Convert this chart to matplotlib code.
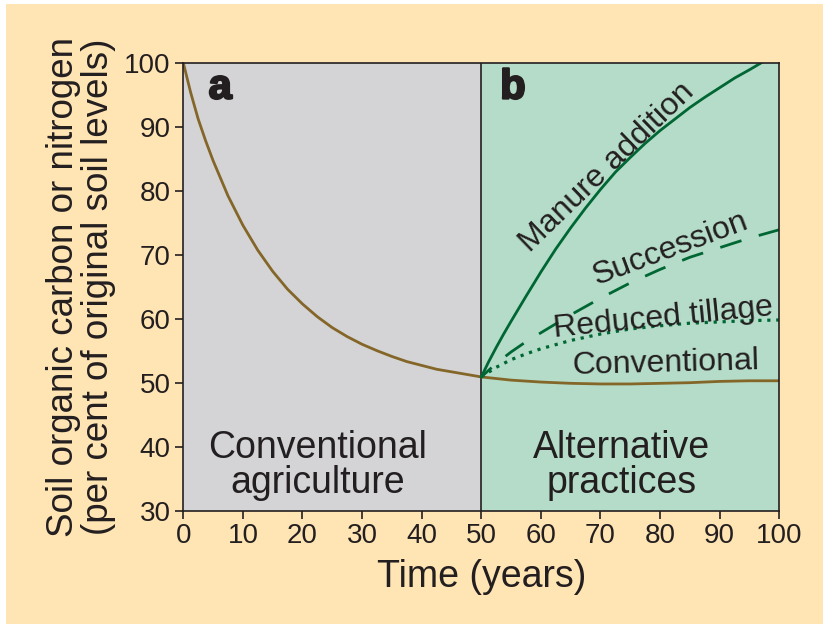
import matplotlib
matplotlib.use("Agg")
import matplotlib.pyplot as plt
from matplotlib.patches import Rectangle
import matplotlib.patheffects as pe

plt.rcParams['font.family'] = ['Liberation Sans', 'DejaVu Sans']

# ---- data ----
years_conv = [0, 1.25, 2.5, 3.75, 5, 7.5, 10, 12.5, 15, 17.5, 20, 22.5, 25, 27.5, 30, 32.5,
              35, 37.5, 40, 42.5, 45, 47.5, 50, 55, 60, 65, 70, 75, 80, 85, 90, 95, 100]
conventional = [100, 95.3, 91.2, 87.8, 84.7, 79.2, 74.6, 70.7, 67.4, 64.6, 62.3, 60.3, 58.6,
                57.2, 56.0, 55.0, 54.1, 53.3, 52.7, 52.1, 51.7, 51.3, 50.9, 50.4, 50.1, 49.9,
                49.8, 49.8, 49.9, 50.0, 50.2, 50.3, 50.3]

years_manure = [50, 51.25, 52.5, 53.75, 55, 57.5, 60, 62.5, 65, 67.5, 70, 72.5, 75, 77.5, 80,
                82.5, 85, 87.5, 90, 92.5, 95, 97]
manure = [50.9, 53.3, 55.5, 57.6, 59.6, 63.5, 67.3, 70.9, 74.2, 77.3, 80.2, 82.9, 85.2, 87.4,
          89.4, 91.2, 93.0, 94.6, 96.1, 97.6, 98.9, 100]

years_alt = [50, 52.5, 55, 57.5, 60, 65, 70, 75, 80, 85, 90, 95, 100]
succession = [50.9, 53.0, 54.8, 56.4, 57.8, 60.6, 63.2, 65.6, 67.7, 69.6, 71.1, 72.6, 73.9]
reduced_tillage = [50.9, 52.4, 53.6, 54.5, 55.3, 56.6, 57.6, 58.4, 58.9, 59.3, 59.5, 59.7, 59.8]

x_ticks = [0, 10, 20, 30, 40, 50, 60, 70, 80, 90, 100]
y_ticks = [30, 40, 50, 60, 70, 80, 90, 100]

# ---- styles ----
BEIGE = '#FFE4B4'
GRAY = '#D4D4D6'
GREEN_BG = '#B4DCC8'
BROWN = '#846629'
GREEN = '#006633'
INK = '#231F20'

fig = plt.figure(figsize=(8.23, 6.24), dpi=100, facecolor='white')
fig.patches.append(Rectangle((6 / 823, 0), 1, 620 / 624, transform=fig.transFigure,
                             facecolor=BEIGE, edgecolor='none', zorder=-10))

ax = fig.add_axes([0.2227, 0.1816, 0.7242, 0.7179])
ax.set_facecolor('none')
ax.set_xlim(0, 100)
ax.set_ylim(30, 100)

ax.axvspan(0, 50, color=GRAY, zorder=0, lw=0)
ax.axvspan(50, 100, color=GREEN_BG, zorder=0, lw=0)
ax.axvline(50, color=INK, lw=1.2, zorder=1)

ax.plot(years_conv, conventional, color=BROWN, lw=2.0, zorder=3, solid_joinstyle='round')
ax.plot(years_alt, reduced_tillage, color=GREEN, lw=2.3, linestyle=(0, (1, 1.8)), zorder=3)
ax.plot(years_alt, succession, color=GREEN, lw=2.0, linestyle=(3, (8, 6.5)), zorder=3)
ax.plot(years_manure, manure, color=GREEN, lw=2.0, zorder=4, solid_joinstyle='round')

for s in ax.spines.values():
    s.set_color(INK)
    s.set_linewidth(1.2)
    s.set_zorder(5)

ax.set_xticks(x_ticks)
ax.set_yticks(y_ticks)
ax.tick_params(direction='out', length=6, width=1.2, color=INK, labelcolor=INK,
               labelsize=20, pad=3)

ax.set_xlabel('Time (years)', fontsize=27, color=INK)
ax.xaxis.set_label_coords(0.5, -0.148)
ax.xaxis.label.set_verticalalignment('center')

ax.set_ylabel('Soil organic carbon or nitrogen\n(per cent of original soil levels)',
              fontsize=26.5, color=INK, linespacing=1.0)
ax.yaxis.set_label_coords(-0.1716, 0.5)
ax.yaxis.label.set_verticalalignment('center')

bold_fx = [pe.withStroke(linewidth=1.6, foreground=INK)]
ax.text(6.2, 94.4, 'a', fontsize=30, fontweight='bold', color=INK, ha='center',
        va='baseline', path_effects=bold_fx, zorder=6)
ax.text(55.3, 94.4, 'b', fontsize=30, fontweight='bold', color=INK, ha='center',
        va='baseline', path_effects=bold_fx, zorder=6)

ax.text(22.5, 37.1, 'Conventional\nagriculture', fontsize=27, color=INK, ha='center',
        va='center', linespacing=0.95, zorder=6)
ax.text(73.6, 37.1, 'Alternative\npractices', fontsize=27, color=INK, ha='center',
        va='center', linespacing=0.95, zorder=6)

lab = dict(fontsize=23, color=INK, ha='center', va='baseline', rotation_mode='anchor', zorder=6)
ax.text(72.0, 82.8, 'Manure addition', rotation=44, **lab)
ax.text(82.2, 69.7, 'Succession', rotation=20.5, **lab)
ax.text(80.7, 58.9, 'Reduced tillage', rotation=5.7, **lab)
ax.text(81.0, 51.7, 'Conventional', rotation=1.5, **lab)

fig.savefig('out.png', dpi=100, facecolor=fig.get_facecolor())
